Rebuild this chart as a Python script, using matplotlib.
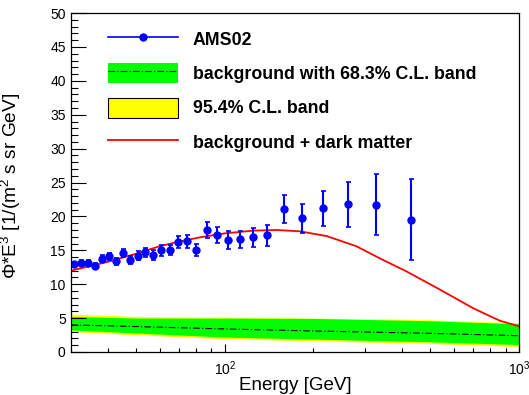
import matplotlib
matplotlib.use("Agg")
import matplotlib.pyplot as plt
from matplotlib.lines import Line2D
from matplotlib.patches import Patch
from matplotlib.ticker import MultipleLocator, LogLocator, NullFormatter

plt.rcParams["font.family"] = ["Liberation Sans", "DejaVu Sans"]
plt.rcParams["mathtext.fontset"] = "custom"
plt.rcParams["mathtext.rm"] = "Liberation Sans"
plt.rcParams["mathtext.it"] = "Liberation Sans:italic"
plt.rcParams["mathtext.bf"] = "Liberation Sans:bold"

# AMS02 points: energy [GeV], flux*E^3, error
energia = [30.8, 32.5, 34.2, 36.2, 38.2, 40.3, 42.6, 45.1, 47.6, 50.6,
           53.7, 57.2, 60.9, 65.0, 69.4, 74.4, 80.1, 86.7, 93.7, 102.4,
           112.4, 124.8, 139.2, 159.3, 183.3, 216.0, 262.0, 327.0, 429.0]
flujo = [12.95, 13.2, 13.2, 12.75, 13.75, 14.1, 13.35, 14.65, 13.55, 14.2,
         14.7, 14.3, 15.0, 15.05, 16.25, 16.3, 15.1, 18.0, 17.3, 16.5,
         16.6, 16.9, 17.2, 21.1, 19.7, 21.2, 21.8, 21.7, 19.5]
error = [0.3, 0.3, 0.35, 0.4, 0.5, 0.5, 0.55, 0.6, 0.6, 0.65,
         0.7, 0.7, 0.8, 0.8, 0.85, 0.9, 0.9, 1.2, 1.2, 1.3,
         1.3, 1.4, 1.6, 2.0, 2.2, 2.6, 3.3, 4.5, 6.0]

# background + dark matter
energia_dm = [30, 40, 50, 60, 70, 82, 100, 125, 150, 180, 222, 280,
              337, 414, 539, 699, 862, 1000]
flujo_dm = [12.0, 13.3, 14.5, 15.6, 16.3, 16.9, 17.5, 17.9, 18.0, 17.8,
            17.1, 15.6, 13.8, 11.9, 9.2, 6.45, 4.6, 3.8]

# background with C.L. bands
energia_fondo = [30, 50, 100, 200, 500, 1000]
fondo = [4.0, 3.75, 3.4, 3.1, 2.75, 2.4]
verde_bajo = [3.25, 2.8, 2.2, 1.9, 1.5, 1.1]
verde_alto = [5.25, 5.0, 5.0, 4.95, 4.6, 4.15]
amarillo_bajo = [3.0, 2.55, 1.95, 1.65, 1.25, 0.8]
amarillo_alto = [5.6, 5.25, 5.1, 5.0, 4.75, 4.3]

etiquetas = ["AMS02", "background with 68.3% C.L. band",
             "95.4% C.L. band", "background + dark matter"]

fig = plt.figure(figsize=(5.29, 3.95), dpi=100)
ax = fig.add_axes([0.1342, 0.1089, 0.8469, 0.858])

ax.fill_between(energia_fondo, amarillo_bajo, amarillo_alto, color="#ffff00", lw=0)
ax.fill_between(energia_fondo, verde_bajo, verde_alto, color="#00ff00", lw=0)
ax.plot(energia_fondo, fondo, color="black", ls=(0, (6, 2, 1, 2)), lw=0.8)
ax.plot(energia_dm, flujo_dm, color="#ff0000", lw=1.3)
ax.errorbar(energia, flujo, yerr=error, fmt="o", color="#0000ff", ms=5,
            elinewidth=1.5, capsize=1.8, capthick=1.2)

ax.set_xscale("log")
ax.set_xlim(30, 1000)
ax.set_ylim(0, 50)
ax.yaxis.set_major_locator(MultipleLocator(5))
ax.yaxis.set_minor_locator(MultipleLocator(1))
ax.xaxis.set_minor_locator(LogLocator(base=10, subs=range(2, 10)))
ax.xaxis.set_minor_formatter(NullFormatter())

ax.tick_params(axis="both", which="both", direction="in", top=False, right=False)
ax.tick_params(axis="y", which="major", length=10.5, width=0.8, pad=3.8,
               labelsize=10)
ax.tick_params(axis="y", which="minor", length=5, width=0.8)
ax.tick_params(axis="x", which="major", length=6, width=0.8, pad=5.5,
               labelsize=10)
ax.tick_params(axis="x", which="minor", length=3.2, width=0.8)
for lado in ax.spines.values():
    lado.set_linewidth(0.9)

ax.set_xlabel("Energy [GeV]", fontsize=13.5)
ax.set_ylabel(r"Φ*E$^{3}$ [1/(m$^{2}$ s sr GeV]", fontsize=13.8)
ax.xaxis.set_label_coords(0.5, -0.075)
ax.yaxis.set_label_coords(-0.108, 0.49)

manejadores = [
    Line2D([], [], color="#0000ff", marker="o", ms=5, lw=1.2),
    (Patch(facecolor="#00ff00", edgecolor="none"),
     Line2D([], [], color="black", ls=(0, (6, 2, 1, 2)), lw=0.8)),
    Patch(facecolor="#ffff00", edgecolor="black", lw=0.8),
    Line2D([], [], color="#ff0000", lw=1.3),
]
fig.legend(manejadores, etiquetas, loc="upper left",
           bbox_to_anchor=(0.204, 0.927), frameon=False,
           prop={"weight": "bold", "size": 12.8}, handlelength=3.94,
           handleheight=1.35, labelspacing=0.81, handletextpad=0.84,
           borderpad=0, borderaxespad=0)

fig.savefig("out.png", dpi=100)
